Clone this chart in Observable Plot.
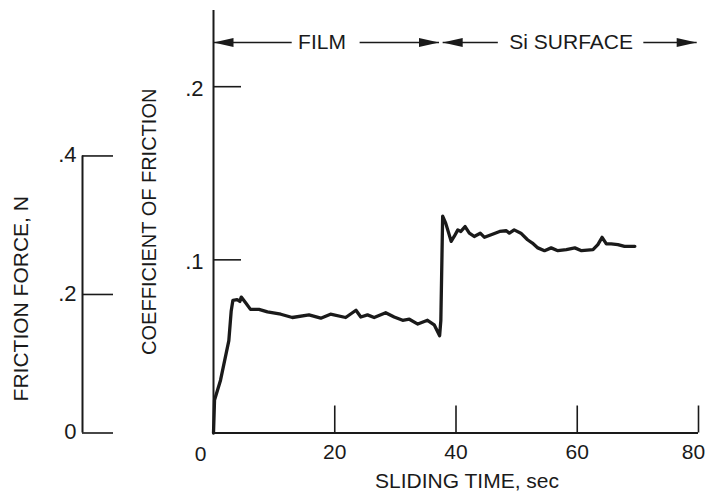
<!DOCTYPE html>
<html><head><meta charset="utf-8">
<script src="https://cdn.jsdelivr.net/npm/d3@7"></script>
<script src="https://cdn.jsdelivr.net/npm/@observablehq/plot@0.6"></script>
<style>
html,body{margin:0;padding:0;background:#fff;}
#chart svg{display:block;}
</style>
</head><body><div id="chart"></div>
<script>
// ---- data ----
const timeSec = [0, 0.17, 1.16, 2.53, 2.92, 3.2, 3.9, 4.35, 4.58, 5.3, 6.1, 7.5, 8.9, 11.1, 13.0, 15.75, 17.7, 19.3, 21.8, 23.5, 24.3, 25.4, 26.5, 28.4, 29.8, 31.2, 32.3, 33.7, 35.3, 36.4, 37.3, 37.5, 37.8, 38.3, 39.2, 39.7, 40.3, 40.8, 41.5, 42.2, 43.0, 44.0, 44.7, 45.8, 47.2, 48.3, 48.8, 49.6, 50.7, 51.8, 52.6, 53.5, 54.6, 55.7, 56.8, 58.2, 59.6, 60.7, 62.6, 63.4, 64.1, 64.8, 65.6, 66.7, 67.8, 69.5];
const coefficient = [0, 0.019, 0.0305, 0.0533, 0.0705, 0.0766, 0.077, 0.076, 0.0785, 0.0752, 0.0714, 0.0714, 0.070, 0.0686, 0.0667, 0.0682, 0.0663, 0.0686, 0.0667, 0.0709, 0.067, 0.0682, 0.0667, 0.0695, 0.067, 0.0651, 0.0657, 0.0629, 0.0651, 0.0625, 0.0562, 0.065, 0.1252, 0.1212, 0.1107, 0.1135, 0.1173, 0.1164, 0.1192, 0.1154, 0.1135, 0.1154, 0.113, 0.1145, 0.1164, 0.1168, 0.1154, 0.1173, 0.1154, 0.1116, 0.1097, 0.1069, 0.1053, 0.1069, 0.1053, 0.1059, 0.1069, 0.1053, 0.1059, 0.1088, 0.113, 0.1092, 0.1092, 0.1088, 0.1078, 0.1078];

const xTicks = [20, 40, 60, 80];
const xTickLabels = ["0", "20", "40", "60", "80"];
const xTickLabelValues = [0, 20, 40, 60, 80];
const coefTicks = [0.1, 0.2];
const coefTickLabels = [".1", ".2"];
const forceTicks = [0, 0.2, 0.4];
const forceTickLabels = ["0", ".2", ".4"];
const normalLoadN = 2.5; // friction force (N) = coefficient * load

const regionNames = ["FILM", "Si SURFACE"];
const regionStart = [0, 37.8];
const regionEnd = [37.2, 79.7];
const regionLabelAt = [17.9, 59.0];
const shaftGapStart = [12.9, 46.9];
const shaftGapEnd = [24.1, 70.9];
const annotY = 0.2255;

// ---- styling ----
const ink = "#1a1a1a";
const font = "'Liberation Sans', Arial, Helvetica, sans-serif";

const shafts = [];
regionNames.forEach((n, i) => {
  shafts.push({x1: regionStart[i], x2: shaftGapStart[i]});
  shafts.push({x1: shaftGapEnd[i], x2: regionEnd[i]});
});
const arrowRight = {draw(ctx) { ctx.moveTo(0, 0); ctx.lineTo(-20, -4.5); ctx.lineTo(-20, 4.5); ctx.closePath(); }};
const arrowLeft = {draw(ctx) { ctx.moveTo(0, 0); ctx.lineTo(20, -4.5); ctx.lineTo(20, 4.5); ctx.closePath(); }};

const forcePos = forceTicks.map(f => f / normalLoadN);
const forceLabel = d => forceTickLabels[forcePos.findIndex(p => Math.abs(p - d) < 1e-9)];
const coefLabel = d => coefTickLabels[coefTicks.findIndex(p => Math.abs(p - d) < 1e-9)];
const xLabel = d => xTickLabels[xTickLabelValues.indexOf(d)];

const chart = Plot.plot({
  width: 709,
  height: 503,
  marginLeft: 213,
  marginRight: 11,
  marginTop: 10,
  marginBottom: 70.5,
  style: {fontFamily: font, fontSize: "21px", color: ink, background: "#fff"},
  x: {domain: [0, 80]},
  y: {domain: [0, 0.244]},
  marks: [
    // frame axes lines
    Plot.ruleY([0], {stroke: ink, strokeWidth: 2}),
    Plot.ruleX([0], {stroke: ink, strokeWidth: 2}),
    // x ticks (inward) and labels
    Plot.axisX(xTicks, {anchor: "bottom", tickSize: -27, tickFormat: () => "", stroke: ink, strokeWidth: 1.6, label: null}),
    Plot.axisX([20, 40, 60], {anchor: "bottom", tickSize: 0, tickPadding: 11, tickFormat: xLabel, fill: ink, label: null, fontSize: 21}),
    Plot.axisX([80], {anchor: "bottom", tickSize: 0, tickPadding: 11, dx: -5, tickFormat: xLabel, fill: ink, label: null, fontSize: 21}),
    Plot.axisX([0], {anchor: "bottom", tickSize: 0, tickPadding: 13, dx: -13, tickFormat: xLabel, fill: ink, label: null, fontSize: 21}),
    // coefficient axis ticks (inward) and labels
    Plot.axisY(coefTicks, {anchor: "left", tickSize: -28, tickFormat: () => "", stroke: ink, strokeWidth: 1.6, label: null}),
    Plot.axisY(coefTicks, {anchor: "left", tickSize: 0, tickPadding: 10, dy: 2, tickFormat: coefLabel, fill: ink, label: null, fontSize: 22}),
    // friction force axis (second scale, offset to the left)
    Plot.ruleX([0], {y1: 0, y2: forcePos[forcePos.length - 1], dx: -131, stroke: ink, strokeWidth: 2}),
    Plot.axisY(forcePos, {anchor: "left", tickSize: -31, dx: -131, tickFormat: () => "", stroke: ink, strokeWidth: 1.6, label: null}),
    Plot.axisY(forcePos, {anchor: "left", tickSize: 0, tickPadding: 6, dx: -131, dy: -1, tickFormat: forceLabel, fill: ink, label: null, fontSize: 22}),
    // axis titles
    Plot.text(["SLIDING TIME, sec"], {frameAnchor: "bottom", dx: 11, dy: 40, lineAnchor: "top", textAnchor: "middle", text: d => d, fill: ink, fontSize: 21}),
    Plot.text(["COEFFICIENT OF FRICTION"], {frameAnchor: "left", rotate: -90, dx: -64, dy: 0, text: d => d, fill: ink, fontSize: 20, textAnchor: "middle", lineAnchor: "middle"}),
    Plot.text(["FRICTION FORCE, N"], {frameAnchor: "left", rotate: -90, dx: -192, dy: 77, text: d => d, fill: ink, fontSize: 21, textAnchor: "middle", lineAnchor: "middle"}),
    // region annotations
    Plot.link(shafts, {x1: "x1", x2: "x2", y1: () => annotY, y2: () => annotY, stroke: ink, strokeWidth: 1.6}),
    Plot.dot(regionStart, {x: d => d, y: () => annotY, symbol: arrowLeft, fill: ink, stroke: "none"}),
    Plot.dot(regionEnd, {x: d => d, y: () => annotY, symbol: arrowRight, fill: ink, stroke: "none"}),
    Plot.text(regionNames, {x: (d, i) => regionLabelAt[i], y: () => annotY, text: d => d, fill: ink, fontSize: 21}),
    // data curve
    Plot.line(timeSec, {x: timeSec, y: coefficient, stroke: ink, strokeWidth: 3.3, strokeLinejoin: "round", strokeLinecap: "round"})
  ]
});
document.getElementById("chart").appendChild(chart);
</script>
</body></html>
